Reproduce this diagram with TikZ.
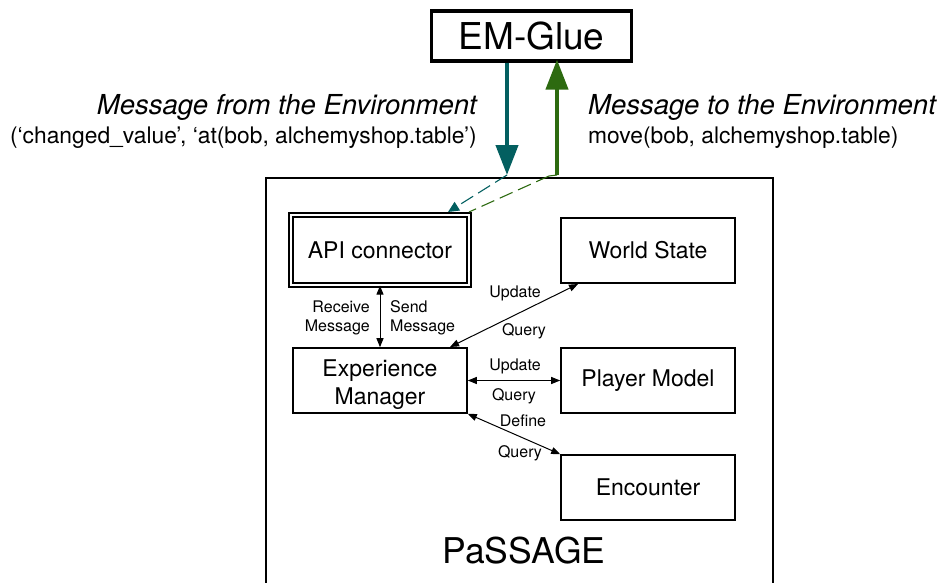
\documentclass[tikz,border=0pt]{standalone}
\usepackage{fontspec}
\setmainfont{TeX Gyre Heros}
\usetikzlibrary{arrows.meta}
\definecolor{glueteal}{HTML}{035F60}
\definecolor{gluegreen}{HTML}{2D6A10}
\newcommand{\fsz}[1]{\fontsize{#1pt}{\dimexpr #1pt*6/5\relax}\selectfont}
\tikzset{
  compbox/.style={draw, line width=1.6pt, minimum width=174pt, minimum height=65pt,
    align=center, font=\fsz{23}, inner sep=0pt},
  lbl/.style={font=\fsz{16}, inner sep=0pt, align=center},
  link/.style={line width=1pt, {Triangle[length=9pt,width=7pt]}-{Triangle[length=9pt,width=7pt]}},
  bigarrow/.style={line width=4.2pt, -{Triangle[length=30pt,width=22pt]}},
  envdash/.style={line width=1.1pt, dash pattern=on 14pt off 6pt},
}
\begin{document}
\begin{tikzpicture}[x=1pt,y=-1pt]
\useasboundingbox (0,0) rectangle (946,582);

% outer PaSSAGE frame, open at the bottom
\draw[line width=1.8pt] (266,600) -- (266,178) -- (773,178) -- (773,600);
\node[font=\fsz{35.5}] (title) at (524,551) {PaSSAGE};

% EM-Glue
\node[draw, line width=3.2pt, minimum width=200pt, minimum height=50pt, font=\fsz{37}, inner sep=0pt]
  (glue) at (531.5,36) {EM-Glue};

% components
\node[draw, line width=1.3pt, double, double distance=2.6pt, minimum width=178pt, minimum height=70pt,
  font=\fsz{23}, inner sep=0pt] (api) at (380,250) {API connector};
\node[compbox] (world) at (648,250.5) {World State};
\node[compbox, text height=52pt] (em) at (380,380.5) {Experience\\Manager};
\node[compbox] (player) at (648,380.5) {Player Model};
\node[compbox] (enc) at (648,487.5) {Encounter};

% exchange with the environment
\coordinate (tealEnd) at (507,175);
\coordinate (greenStart) at (557,175);
\coordinate (greenKnee) at (549,176);
\coordinate (apiCornerA) at (448,212);
\coordinate (apiCornerB) at (469,212);
\draw[glueteal, bigarrow] (glue.south -| tealEnd) -- (tealEnd);
\draw[gluegreen, bigarrow] (greenStart) -- ([yshift=3pt]glue.south -| greenStart);
\draw[glueteal, envdash, -{Triangle[length=11pt,width=10pt]}] (tealEnd) -- (apiCornerA);
\draw[gluegreen, line width=1.1pt] (greenStart) -- (greenKnee);
\draw[gluegreen, envdash] (greenKnee) -- (apiCornerB);

\node[font=\fsz{27.5}\itshape, anchor=east, inner sep=0pt] (fromEnv) at (477,107) {Message from the Environment};
\node[font=\fsz{22.8}, anchor=east, inner sep=0pt] (fromMsg) at (477,138) {(‘changed\_value’, ‘at(bob, alchemyshop.table’)};
\node[font=\fsz{27.5}\itshape, anchor=west, inner sep=0pt] (toEnv) at (588,107) {Message to the Environment};
\node[font=\fsz{22.8}, anchor=west, inner sep=0pt] (toMsg) at (588,138) {move(bob, alchemyshop.table)};

% internal links
\draw[link] (api.south) -- (em.north);
\node[lbl, align=right, anchor=east] (recv) at (370,318) {Receive\\Message};
\node[lbl, align=left, anchor=west] (send) at (390,318) {Send\\Message};

\coordinate (emNE) at (450,347);
\coordinate (wsSW) at (578,284);
\draw[link] (emNE) -- (wsSW);
\node[lbl] (upd1) at (515,293) {Update};
\node[lbl] (qry1) at (524,331) {Query};

\draw[link] (em.east) -- (player.west);
\node[lbl] (upd2) at (515,366) {Update};
\node[lbl] (qry2) at (514,396) {Query};

\draw[link] (em.south east) -- (enc.north west);
\node[lbl] (def3) at (523,421) {Define};
\node[lbl] (qry3) at (520,453) {Query};
\end{tikzpicture}
\end{document}
